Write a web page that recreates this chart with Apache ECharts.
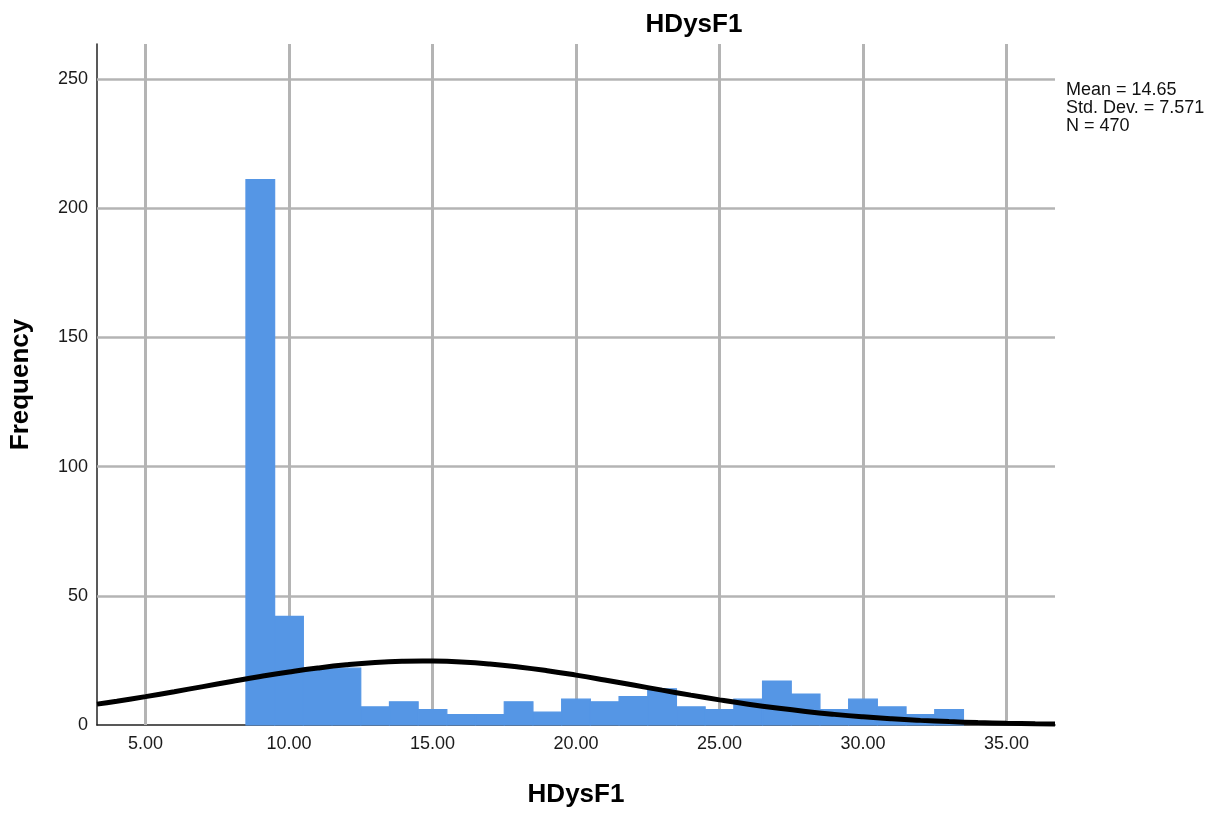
<!DOCTYPE html>
<html>
<head>
<meta charset="utf-8">
<script src="https://cdn.jsdelivr.net/npm/echarts@6/dist/echarts.min.js"></script>
<style>
html,body{margin:0;padding:0;background:#fff;}
#chart{width:1217px;height:824px;}
</style>
</head>
<body>
<div id="chart"></div>
<script>
// ---- data ----
const TITLE = 'HDysF1';
const X_NAME = 'HDysF1';
const Y_NAME = 'Frequency';
const BIN_WIDTH = 1;
const binCenters = [9, 10, 11, 12, 13, 14, 15, 16, 17, 18, 19, 20, 21, 22, 23, 24, 25, 26, 27, 28, 29, 30, 31, 32, 33];
const frequencies = [211, 42, 22, 22, 7, 9, 6, 4, 4, 9, 5, 10, 9, 11, 14, 7, 6, 10, 17, 12, 6, 10, 7, 4, 6];
// normal curve (Mean = 14.65, SD = 7.571, N = 470), values read at these x positions
const curveX = [3.31, 4, 5, 6, 7, 8, 9, 10, 11, 12, 13, 14, 14.65, 15, 16, 17, 18, 19, 20, 21, 22, 23, 24, 25, 26, 27, 28, 29, 30, 31, 32, 33, 34, 35, 36, 36.69];
const curveY = [8.07, 9.21, 10.99, 12.89, 14.86, 16.84, 18.75, 20.51, 22.05, 23.29, 24.18, 24.67, 24.77, 24.74, 24.37, 23.60, 22.45, 21.00, 19.29, 17.42, 15.46, 13.48, 11.55, 9.73, 8.05, 6.55, 5.23, 4.11, 3.17, 2.40, 1.79, 1.31, 0.944, 0.668, 0.465, 0.358];
const xTicks = [5, 10, 15, 20, 25, 30, 35];
const yTicks = [0, 50, 100, 150, 200, 250];
const MEAN = 14.65;
const STD_DEV = 7.571;
const N = 470;

// ---- chart ----
const chart = echarts.init(document.getElementById('chart'), null, {renderer: 'canvas'});
const FONT = 'Liberation Sans, Arial, sans-serif';
const GRID_COLOR = '#b4b4b4';
const BAR_COLOR = '#5596e5';

const barData = binCenters.map((c, i) => [c, frequencies[i]]);
const curveData = curveX.map((x, i) => [x, curveY[i]]);

const gridLines = [];
xTicks.forEach(v => gridLines.push({xAxis: v, lineStyle: {width: 3, color: GRID_COLOR, type: 'solid'}}));
yTicks.filter(v => v > 0).forEach(v => gridLines.push({yAxis: v, lineStyle: {width: 2.5, color: GRID_COLOR, type: 'solid'}}));

const option = {
  animation: false,
  backgroundColor: '#ffffff',
  title: {
    text: TITLE,
    left: 694,
    top: 12,
    padding: 0,
    textAlign: 'center',
    textStyle: {fontFamily: FONT, fontSize: 26, fontWeight: 'bold', color: '#000'}
  },
  grid: {left: 97, right: 162, top: 44, bottom: 99, containLabel: false},
  xAxis: {
    type: 'value',
    min: 3.31,
    max: 36.69,
    minInterval: 5,
    maxInterval: 5,
    name: X_NAME,
    nameLocation: 'middle',
    nameGap: 57,
    nameTextStyle: {fontFamily: FONT, fontSize: 26, fontWeight: 'bold', color: '#000'},
    axisLine: {show: true, onZero: false, lineStyle: {color: '#222', width: 1.5}},
    axisTick: {show: false},
    splitLine: {show: false},
    axisLabel: {
      show: true,
      margin: 10,
      showMinLabel: false,
      showMaxLabel: false,
      fontFamily: FONT,
      fontSize: 18,
      color: '#1a1a1a',
      formatter: v => (xTicks.indexOf(Math.round(v * 1000) / 1000) >= 0 ? v.toFixed(2) : '')
    }
  },
  yAxis: {
    type: 'value',
    min: 0,
    max: 263.5,
    interval: 50,
    name: Y_NAME,
    nameLocation: 'middle',
    nameGap: 63,
    nameRotate: 90,
    nameTextStyle: {fontFamily: FONT, fontSize: 26, fontWeight: 'bold', color: '#000'},
    axisLine: {show: true, lineStyle: {color: '#222', width: 1.5}},
    axisTick: {show: false},
    splitLine: {show: false},
    axisLabel: {
      show: true,
      margin: 9,
      showMaxLabel: false,
      fontFamily: FONT,
      fontSize: 18,
      color: '#1a1a1a',
      formatter: v => (yTicks.indexOf(v) >= 0 ? String(v) : '')
    }
  },
  graphic: [{
    type: 'text',
    left: 1066,
    top: 81,
    z: 10,
    style: {
      text: 'Mean = ' + MEAN.toFixed(2) + '\nStd. Dev. = ' + STD_DEV.toFixed(3) + '\nN = ' + N,
      font: '18px ' + FONT,
      lineHeight: 18,
      fill: '#111'
    }
  }],
  series: [
    {
      name: 'grid',
      type: 'line',
      z: 1,
      data: [[xTicks[0], 0]],
      showSymbol: false,
      symbolSize: 0,
      lineStyle: {width: 0, opacity: 0},
      silent: true,
      markLine: {
        z: 1,
        silent: true,
        symbol: ['none', 'none'],
        label: {show: false},
        emphasis: {disabled: true},
        animation: false,
        data: gridLines
      }
    },
    {
      name: 'Frequency',
      type: 'custom',
      z: 10,
      data: barData,
      renderItem: function (params, api) {
        const x = api.value(0);
        const y = api.value(1);
        const p0 = api.coord([x - BIN_WIDTH / 2, y]);
        const p1 = api.coord([x + BIN_WIDTH / 2, 0]);
        return {
          type: 'rect',
          shape: {x: p0[0], y: p0[1], width: p1[0] - p0[0], height: p1[1] - p0[1]},
          style: {fill: BAR_COLOR, stroke: BAR_COLOR, lineWidth: 1.2}
        };
      }
    },
    {
      name: 'Normal',
      type: 'line',
      z: 11,
      data: curveData,
      smooth: true,
      showSymbol: false,
      symbol: 'none',
      clip: true,
      lineStyle: {color: '#000', width: 5}
    }
  ]
};
chart.setOption(option);
</script>
</body>
</html>
